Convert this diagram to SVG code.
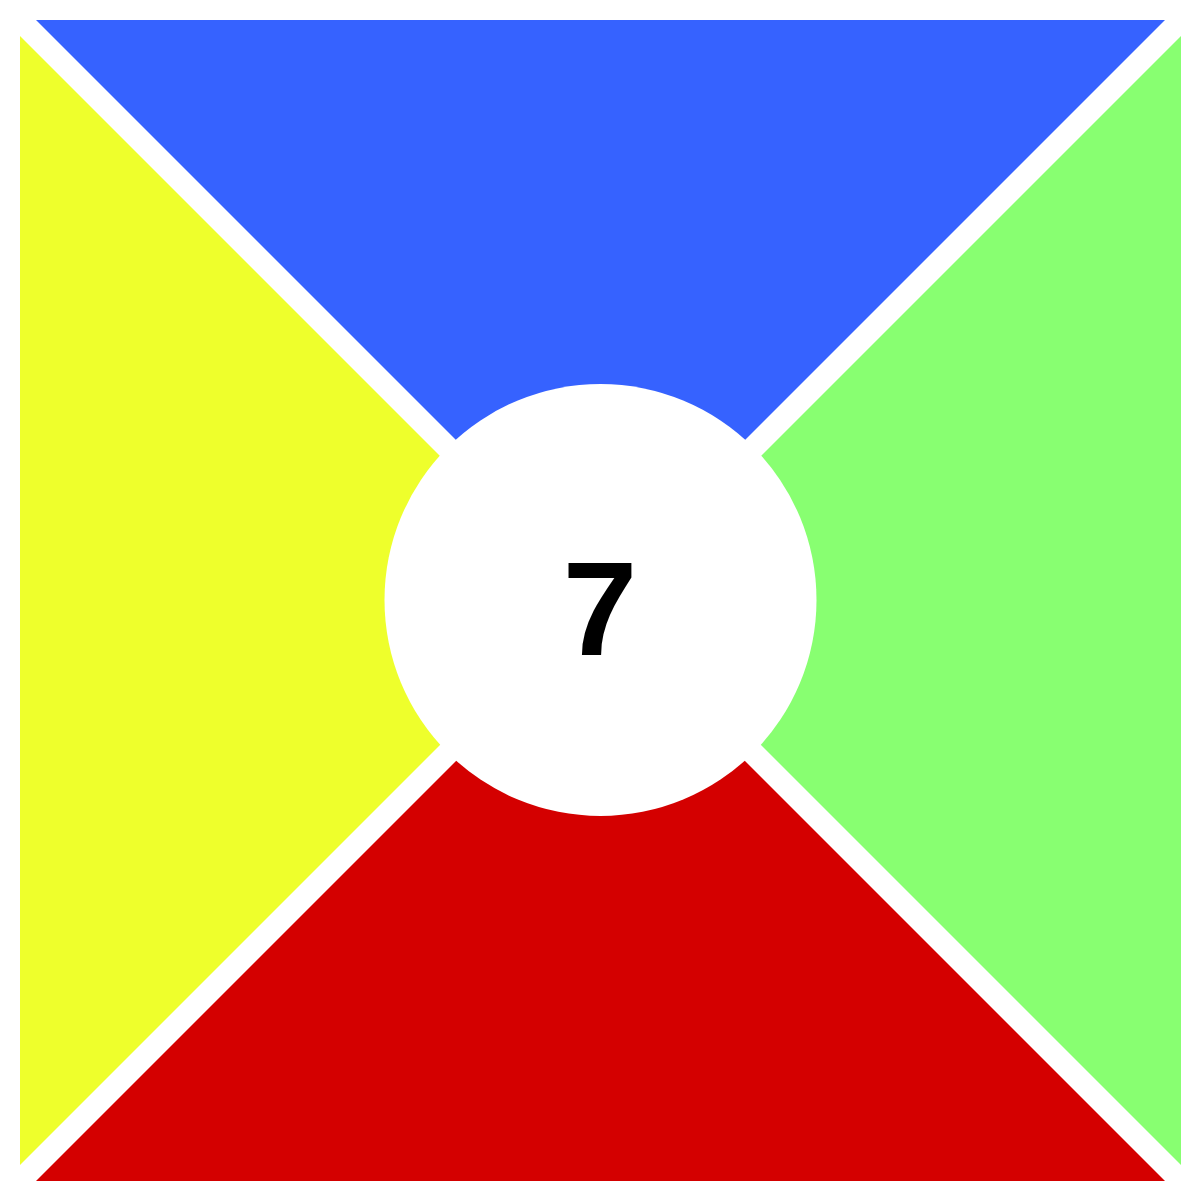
<svg xmlns="http://www.w3.org/2000/svg" width="1202" height="1202" viewBox="0 0 1202 1202">
<style>
.lbl{font-family:"Liberation Sans",Arial,sans-serif;font-weight:bold;font-size:134px;fill:#000}
</style>
<rect width="1202" height="1202" fill="#fff"/>
<g id="top"><polygon points="36,20 1165,20 600.5,584.5" fill="#3662ff"/></g>
<g id="left"><polygon points="20,36 20,1165 584.5,600.5" fill="#eeff2c"/></g>
<g id="right"><polygon points="1181,36 1181,1165 616.5,600.5" fill="#88ff71"/></g>
<g id="bottom"><polygon points="36,1181 1165,1181 600.5,616.5" fill="#d40000"/></g>
<g id="center">
<circle cx="600.5" cy="600" r="216" fill="#fff"/>
<text class="lbl" x="600" y="655" text-anchor="middle">7</text>
</g>
</svg>
